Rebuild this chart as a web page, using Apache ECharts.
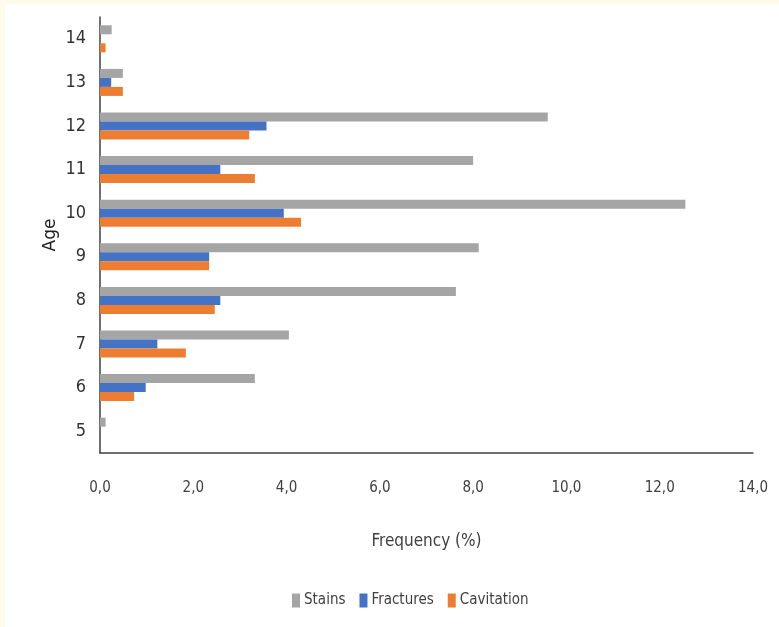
<!DOCTYPE html>
<html>
<head>
  <meta charset="utf-8">
  <script src="https://cdn.jsdelivr.net/npm/echarts@6/dist/echarts.min.js"></script>
  <style>
    html,body{margin:0;padding:0;background:#fffbea;}
    #chart{position:absolute;left:5px;top:4px;width:774px;height:623px;background:#fff;}
  </style>
</head>
<body>
  <div id="chart"></div>
  <script>
    // ages, bottom to top
    var ages = ['5','6','7','8','9','10','11','12','13','14'];
    var stains     = [0.12, 3.32, 4.05, 7.63, 8.12, 12.55, 8.0, 9.6, 0.49, 0.25];
    var fractures  = [0, 0.98, 1.23, 2.58, 2.34, 3.94, 2.58, 3.57, 0.24, 0];
    var cavitation = [0, 0.73, 1.84, 2.46, 2.34, 4.31, 3.32, 3.2, 0.49, 0.12];
    var xTicks = [0, 2, 4, 6, 8, 10, 12, 14];

    var font = '"Liberation Sans Narrow", "DejaVu Sans Condensed", sans-serif';
    var myChart = echarts.init(document.getElementById('chart'));
    var option = {
      animation: false,
      textStyle: {fontFamily: font},
      grid: {left: 95, right: 26, top: 13, bottom: 174},
      legend: {
        data: ['Stains', 'Fractures', 'Cavitation'],
        bottom: 14,
        left: 282,
        itemWidth: 8,
        itemHeight: 14,
        itemGap: 14,
        icon: 'rect',
        textStyle: {fontFamily: font, fontSize: 15, color: '#404040', padding: [0, 0, 0, -1]}
      },
      xAxis: {
        type: 'value',
        min: xTicks[0],
        max: xTicks[xTicks.length - 1],
        interval: 2,
        name: 'Frequency (%)',
        nameLocation: 'middle',
        nameGap: 80,
        nameTextStyle: {fontFamily: font, fontSize: 17, color: '#404040'},
        axisLine: {show: true, lineStyle: {color: '#404040', width: 1.5}},
        axisTick: {show: false},
        splitLine: {show: false},
        axisLabel: {
          margin: 28,
          fontSize: 15,
          color: '#404040',
          formatter: function (v) { return v.toFixed(1).replace('.', ','); }
        }
      },
      yAxis: {
        type: 'category',
        data: ages,
        name: 'Age',
        nameLocation: 'middle',
        nameGap: 41,
        nameMoveOverlap: false,
        nameTextStyle: {fontFamily: 'DejaVu Sans, sans-serif', fontSize: 17, color: '#222'},
        axisLine: {show: true, lineStyle: {color: '#404040', width: 1.5}},
        axisTick: {show: false},
        axisLabel: {margin: 14, fontSize: 18, color: '#333'}
      },
      series: [
        {name: 'Stains', type: 'bar', data: stains, itemStyle: {color: '#a5a5a5'}, barGap: '0%', barCategoryGap: '38%'},
        {name: 'Fractures', type: 'bar', data: fractures, itemStyle: {color: '#4472c4'}, barGap: '0%', barCategoryGap: '38%'},
        {name: 'Cavitation', type: 'bar', data: cavitation, itemStyle: {color: '#ed7d31'}, barGap: '0%', barCategoryGap: '38%'}
      ]
    };
    myChart.setOption(option);
  </script>
</body>
</html>
